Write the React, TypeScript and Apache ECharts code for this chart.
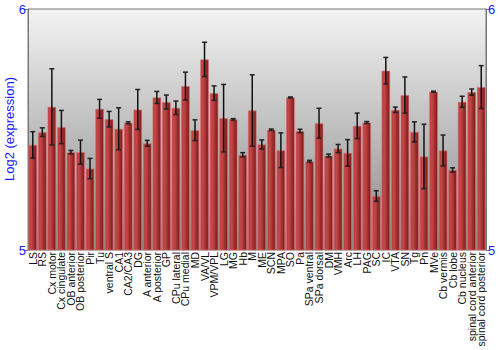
import React, { useEffect, useRef } from "react";
import * as echarts from "echarts";

const categories = [
  "LS", "RS", "Cx motor", "Cx cingulate", "OB anterior", "OB posterior", "Pir", "Tu",
  "ventral S", "CA1", "CA2/CA3", "DG", "A anterior", "A posterior", "GP", "CPu lateral",
  "CPu medial", "MD", "VA/VL", "VPM/VPL", "LG", "MG", "Hb", "M", "ME", "SCN", "MPA", "SO",
  "Pa", "SPa ventral", "SPa dorsal", "DM", "VMH", "Arc", "LH", "PAG", "SC", "IC", "VTA",
  "SN", "Tg", "Pn", "MVe", "Cb vermis", "Cb lobe", "Cb nucleus", "spinal cord anterior",
  "spinal cord posterior",
];

const values = [
  5.436, 5.489, 5.594, 5.510, 5.406, 5.406, 5.338, 5.586,
  5.543, 5.503, 5.528, 5.583, 5.443, 5.633, 5.614, 5.590,
  5.680, 5.497, 5.791, 5.651, 5.547, 5.542, 5.395, 5.579, 5.438, 5.499, 5.414, 5.633,
  5.494, 5.368, 5.526, 5.392, 5.421, 5.403, 5.515, 5.529, 5.224, 5.744, 5.582,
  5.643, 5.490, 5.388, 5.657, 5.413, 5.332, 5.615, 5.655,
  5.676,
];

const errors = [
  0.055, 0.018, 0.158, 0.069, 0.007, 0.050, 0.042, 0.039,
  0.032, 0.087, 0.004, 0.083, 0.012, 0.025, 0.029, 0.028,
  0.058, 0.043, 0.071, 0.030, 0.140, 0.003, 0.009, 0.148, 0.019, 0.003, 0.072, 0.002,
  0.007, 0.004, 0.062, 0.006, 0.017, 0.055, 0.053, 0.004, 0.022, 0.055, 0.011,
  0.075, 0.042, 0.134, 0.002, 0.064, 0.009, 0.023, 0.013,
  0.089,
];

const yTicks = [5, 6];
const yTitle = "Log2 (expression)";

export default function App() {
  const ref = useRef<HTMLDivElement>(null);
  useEffect(() => {
    if (!ref.current) return;
    const chart = echarts.init(ref.current, undefined, { renderer: "svg" });
    const errData = values.map((v, i) => [i, v - errors[i], v + errors[i]]);
    const axisCommon = {
      type: "value",
      min: yTicks[0],
      max: yTicks[1],
      interval: 1,
      splitLine: { show: false },
      axisLine: { show: true, lineStyle: { color: "#777", width: 1 } },
      axisTick: { show: true, length: 4, lineStyle: { color: "#777" } },
      axisLabel: {
        color: "#1a1aff",
        fontSize: 13,
        margin: 2,
        fontFamily: "Liberation Sans, Arial, sans-serif",
      },
    };
    chart.setOption({
      animation: false,
      backgroundColor: "#ffffff",
      grid: {
        left: 28,
        right: 14,
        top: 9,
        bottom: 100,
        containLabel: false,
        outerBoundsMode: "none",
        show: true,
        borderColor: "#777",
        borderWidth: 1,
        backgroundColor: new echarts.graphic.LinearGradient(0, 0, 0, 1, [
          { offset: 0, color: "#f3f3f3" },
          { offset: 1, color: "#888888" },
        ]),
      },
      graphic: [
        {
          type: "text",
          x: 9,
          y: 129,
          rotation: Math.PI / 2,
          style: {
            text: yTitle,
            fill: "#1a1aff",
            font: "13px 'Liberation Sans', Arial, sans-serif",
            align: "center",
            verticalAlign: "middle",
          },
        },
      ],
      xAxis: {
        type: "category",
        data: categories,
        axisLine: { show: false },
        axisTick: { show: false },
        axisLabel: {
          interval: 0,
          rotate: 90,
          fontSize: 10.5,
          margin: 2,
          color: "#111",
          fontFamily: "Liberation Sans, Arial, sans-serif",
        },
      },
      yAxis: [
        { ...axisCommon, position: "left" },
        { ...axisCommon, position: "right" },
      ],
      series: [
        {
          type: "bar",
          data: values,
          barCategoryGap: "10%",
          itemStyle: {
            color: new echarts.graphic.LinearGradient(0, 0, 1, 0, [
              { offset: 0, color: "#b83a3a" },
              { offset: 0.3, color: "#c44848" },
              { offset: 1, color: "#7c1616" },
            ]),
            borderColor: "rgba(220,110,110,0.8)",
            borderWidth: 0.8,
          },
        },
        {
          type: "custom",
          data: errData,
          z: 5,
          renderItem: (params: any, api: any) => {
            const x = api.value(0);
            const lo = api.coord([x, api.value(1)]);
            const hi = api.coord([x, api.value(2)]);
            const cap = 2.5;
            const style = { stroke: "#111", lineWidth: 1.5 };
            const capStyle = { stroke: "#222", lineWidth: 1.5 };
            return {
              type: "group",
              children: [
                { type: "line", shape: { x1: lo[0], y1: lo[1], x2: hi[0], y2: hi[1] }, style },
                { type: "line", shape: { x1: lo[0] - cap, y1: lo[1], x2: lo[0] + cap, y2: lo[1] }, style: capStyle },
                { type: "line", shape: { x1: hi[0] - cap, y1: hi[1], x2: hi[0] + cap, y2: hi[1] }, style: capStyle },
              ],
            };
          },
        },
      ],
    });
    return () => chart.dispose();
  }, []);
  return <div ref={ref} style={{ width: 500, height: 350, position: "absolute", left: 0, top: 0 }} />;
}
